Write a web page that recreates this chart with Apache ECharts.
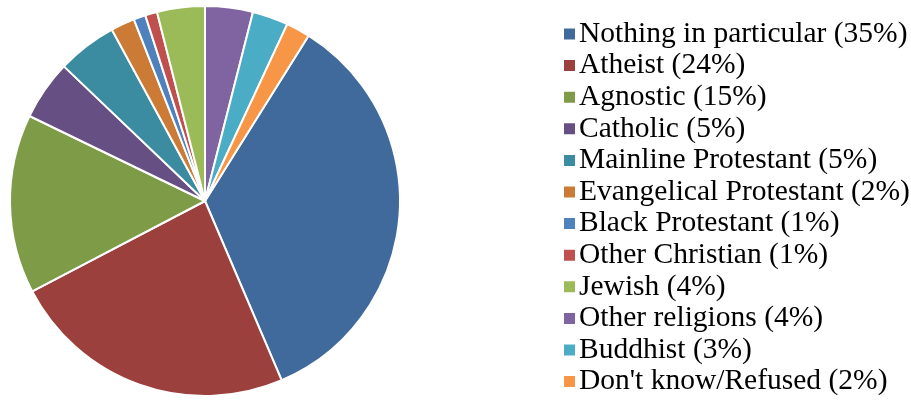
<!DOCTYPE html>
<html>
<head>
<meta charset="utf-8">
<script src="https://cdn.jsdelivr.net/npm/echarts@6/dist/echarts.min.js"></script>
<style>
  html, body { margin: 0; padding: 0; background: #fff; }
  #chart { width: 911px; height: 400px; }
</style>
</head>
<body>
<div id="chart"></div>
<script>
// groups and their shares in percent (legend order)
const groups = ['Nothing in particular', 'Atheist', 'Agnostic', 'Catholic', 'Mainline Protestant',
  'Evangelical Protestant', 'Black Protestant', 'Other Christian', 'Jewish', 'Other religions',
  'Buddhist', "Don't know/Refused"];
const shares = [35, 24, 15, 5, 5, 2, 1, 1, 4, 4, 3, 2];
const colors = ['#3F6A9B', '#9B403D', '#7E9B48', '#664F83', '#3B8BA1', '#CB7B35',
  '#4F81BD', '#C0504D', '#9BBB59', '#8064A2', '#4BACC6', '#F79646'];

// the last three slices sit before 12 o'clock, so shift the start
const total = shares.reduce((a, b) => a + b, 0);
const before = shares[9] + shares[10] + shares[11];
const startAngle = 90 - before / total * 360;

const chart = echarts.init(document.getElementById('chart'));

const option = {
  color: colors,
  animation: false,
  legend: {
    orient: 'vertical',
    left: 562,
    top: 19,
    bottom: 0,
    padding: 0,
    itemWidth: 13,
    itemHeight: 13,
    itemGap: 1.6,
    icon: 'rect',
    formatter: function (name) {
      return name + ' (' + shares[groups.indexOf(name)] + '%)';
    },
    textStyle: {
      fontFamily: 'Liberation Serif',
      fontSize: 29.5,
      lineHeight: 30,
      color: '#000',
      padding: [0, 0, 0, -2]
    }
  },
  series: [{
    type: 'pie',
    center: [205, 201],
    radius: 195,
    startAngle: startAngle,
    clockwise: true,
    label: { show: false },
    labelLine: { show: false },
    itemStyle: { borderColor: '#fff', borderWidth: 2 },
    emphasis: { disabled: true },
    data: groups.map((g, i) => ({ name: g, value: shares[i] }))
  }]
};

chart.setOption(option);
</script>
</body>
</html>
